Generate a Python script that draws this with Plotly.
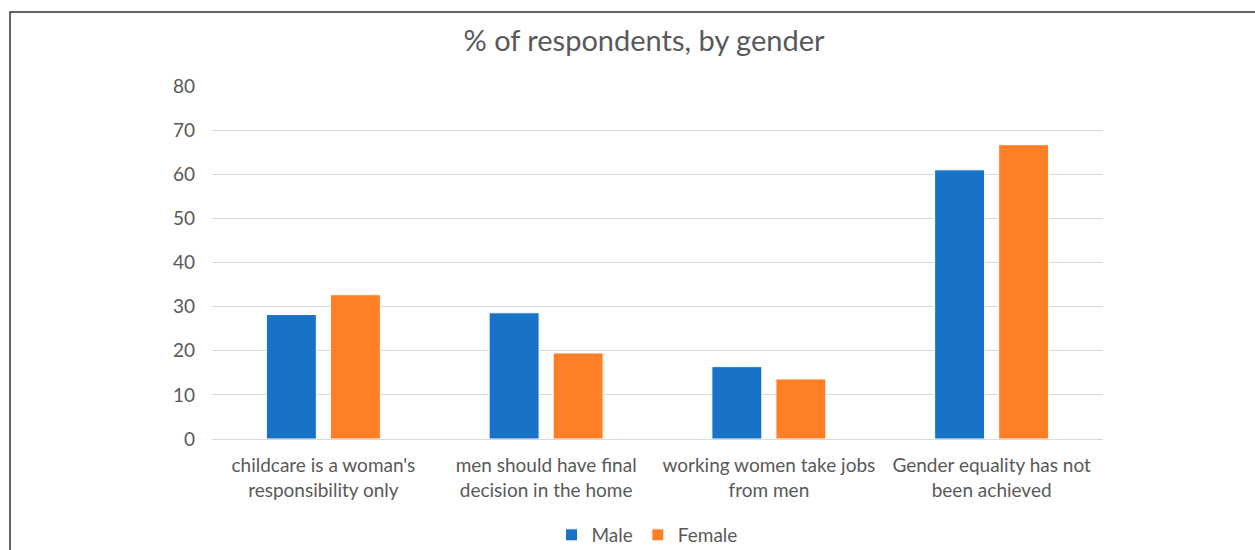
import plotly.graph_objects as go

categories = ["childcare is a woman's<br>responsibility only",
              "men should have final<br>decision in the home",
              "working women take jobs<br>from men",
              "Gender equality has not<br>been achieved"]
male = [28.2, 28.6, 16.4, 61.0]
female = [32.7, 19.5, 13.6, 66.7]
y_ticks = [0, 10, 20, 30, 40, 50, 60, 70, 80]

FONT = "Lato"
GREY = "#595959"

fig = go.Figure()
fig.add_trace(go.Bar(name="Male", x=categories, y=male,
                     marker=dict(color="#1872C8", line=dict(color="#FFFFFF", width=1))))
fig.add_trace(go.Bar(name="Female", x=categories, y=female,
                     marker=dict(color="#FF7F27", line=dict(color="#FFFFFF", width=1))))

W, H = 1255, 550
L, R, T, B = 212, 152, 86, 111
pw, ph = W - L - R, H - T - B

def px_x(x):
    return (x - L) / pw

def px_y(y):
    return (H - B - y) / ph

fig.update_layout(
    width=W, height=H,
    margin=dict(l=L, r=R, t=T, b=B, pad=0, autoexpand=False),
    paper_bgcolor="white", plot_bgcolor="white",
    barmode="group", bargap=0.425, bargroupgap=0.22,
    font=dict(family=FONT, color=GREY, size=18),
    title=dict(text="% of respondents, by gender", x=644 / W, xref="container",
               xanchor="center", y=1 - 41 / H, yref="container", yanchor="middle",
               font=dict(size=29, color=GREY, family=FONT)),
    legend=dict(orientation="h", x=647 / W, xref="container", xanchor="center",
                y=1 - 535 / H, yref="container", yanchor="middle",
                font=dict(size=19, color=GREY, family=FONT),
                traceorder="normal"),
    xaxis=dict(showgrid=False, showline=True, linecolor="#D9D9D9", linewidth=1,
               ticks="", ticklabelstandoff=9, automargin=False,
               tickfont=dict(size=19, color=GREY)),
    yaxis=dict(range=[0, 80], tickvals=y_ticks, showgrid=True, gridcolor="#D9D9D9",
               gridwidth=1, zeroline=False, showline=False, ticks="", automargin=False,
               ticklabelstandoff=16, tickfont=dict(size=19, color=GREY)),
    shapes=[dict(type="rect", xref="paper", yref="paper",
                 x0=px_x(10), x1=px_x(1300), y0=px_y(600), y1=px_y(12),
                 line=dict(color="#333333", width=1.5), fillcolor="rgba(0,0,0,0)",
                 layer="below")],
)

fig.write_html("out.html")
